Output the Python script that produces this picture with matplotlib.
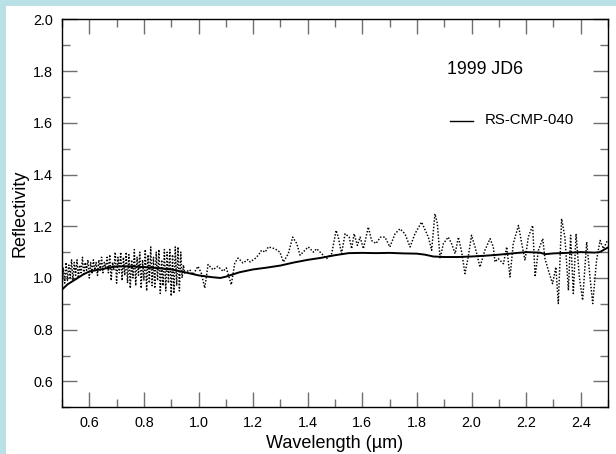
import matplotlib
matplotlib.use("Agg")
import matplotlib.pyplot as plt
from matplotlib.patches import Rectangle
from matplotlib.ticker import MultipleLocator, FixedLocator
import numpy as np

plt.rcParams['font.family'] = ['Liberation Sans', 'DejaVu Sans']

# ---- data: asteroid 1999 JD6 (dotted) -------------------------------------
vis_wave = [0.500, 0.505, 0.510, 0.515, 0.520, 0.525, 0.530, 0.535, 0.540, 0.545,
            0.550, 0.555, 0.560, 0.565, 0.570, 0.575, 0.580, 0.585, 0.590, 0.595,
            0.600, 0.605, 0.610, 0.615, 0.620, 0.625, 0.630, 0.635, 0.640, 0.645,
            0.650, 0.655, 0.660, 0.665, 0.670, 0.675, 0.680, 0.685, 0.690, 0.695,
            0.700, 0.705, 0.710, 0.715, 0.720, 0.725, 0.730, 0.735, 0.740, 0.745,
            0.750, 0.755, 0.760, 0.765, 0.770, 0.775, 0.780, 0.785, 0.790, 0.795,
            0.800, 0.805, 0.810, 0.815, 0.820, 0.825, 0.830, 0.835, 0.840, 0.845,
            0.850, 0.855, 0.860, 0.865, 0.870, 0.875, 0.880, 0.885, 0.890, 0.895,
            0.900, 0.905, 0.910, 0.915, 0.920, 0.925, 0.930, 0.935, 0.940, 0.945]
vis_refl = [0.96, 1.04, 0.98, 1.06, 0.99, 1.05, 1.00, 1.07, 0.99, 1.06,
            1.01, 1.07, 1.00, 1.05, 1.02, 1.08, 1.01, 1.06, 1.03, 1.07,
            1.00, 1.06, 1.02, 1.07, 1.03, 1.06, 1.01, 1.07, 1.03, 1.08,
            1.02, 1.06, 1.04, 1.08, 1.02, 1.09, 0.99, 1.06, 1.03, 1.10,
            0.98, 1.08, 1.02, 1.10, 0.99, 1.08, 1.01, 1.10, 0.98, 1.09,
            0.96, 1.07, 1.00, 1.11, 0.97, 1.08, 1.01, 1.10, 0.96, 1.07,
            0.99, 1.11, 0.95, 1.09, 0.98, 1.12, 0.97, 1.08, 0.96, 1.10,
            0.99, 1.11, 0.94, 1.07, 0.97, 1.11, 0.95, 1.10, 0.98, 1.11,
            0.93, 1.09, 0.94, 1.12, 0.97, 1.12, 0.95, 1.10, 1.00, 1.05]

nir_wave = [0.949, 0.968, 0.980, 0.998, 1.010, 1.023, 1.035, 1.053, 1.071, 1.090,
            1.102, 1.120, 1.133, 1.145, 1.163, 1.181, 1.189, 1.207, 1.219, 1.231,
            1.244, 1.256, 1.280, 1.298, 1.311, 1.329, 1.345, 1.360, 1.372, 1.390,
            1.402, 1.421, 1.433, 1.451, 1.469, 1.488, 1.504, 1.512, 1.524, 1.537,
            1.552, 1.561, 1.570, 1.582, 1.592, 1.604, 1.622, 1.634, 1.650, 1.667,
            1.683, 1.701, 1.720, 1.738, 1.756, 1.775, 1.793, 1.817, 1.842, 1.854,
            1.866, 1.875, 1.885, 1.897, 1.915, 1.927, 1.940, 1.952, 1.964, 1.976,
            1.988, 2.000, 2.013, 2.031, 2.049, 2.068, 2.080, 2.086, 2.098, 2.117,
            2.129, 2.141, 2.153, 2.172, 2.184, 2.196, 2.208, 2.224, 2.233, 2.245,
            2.261, 2.269, 2.285, 2.297, 2.309, 2.318, 2.330, 2.342, 2.355, 2.363,
            2.373, 2.383, 2.395, 2.407, 2.422, 2.434, 2.444, 2.458, 2.471, 2.483,
            2.498]
nir_refl = [1.019, 1.032, 1.013, 1.045, 1.019, 0.961, 1.052, 1.032, 1.045, 1.026,
            1.039, 0.974, 1.058, 1.077, 1.058, 1.071, 1.062, 1.075, 1.088, 1.107,
            1.100, 1.120, 1.113, 1.100, 1.062, 1.094, 1.158, 1.133, 1.088, 1.107,
            1.120, 1.100, 1.113, 1.094, 1.075, 1.094, 1.184, 1.158, 1.094, 1.171,
            1.158, 1.113, 1.171, 1.126, 1.158, 1.113, 1.197, 1.145, 1.133, 1.158,
            1.158, 1.120, 1.171, 1.190, 1.171, 1.120, 1.171, 1.216, 1.158, 1.107,
            1.248, 1.210, 1.075, 1.133, 1.158, 1.133, 1.094, 1.158, 1.100, 1.017,
            1.081, 1.165, 1.120, 1.042, 1.107, 1.152, 1.120, 1.062, 1.075, 1.055,
            1.120, 1.004, 1.133, 1.203, 1.133, 1.068, 1.158, 1.203, 1.004, 1.107,
            1.152, 1.075, 1.017, 0.978, 1.042, 0.901, 1.229, 1.158, 0.952, 1.165,
            0.940, 1.171, 1.004, 0.914, 1.139, 1.004, 0.901, 1.068, 1.145, 1.113,
            1.145]

# ---- data: meteorite RS-CMP-040 (solid) ------------------------------------
met_wave = [0.50, 0.52, 0.55, 0.58, 0.60, 0.65, 0.70, 0.75, 0.80, 0.85,
            0.90, 0.95, 1.00, 1.05, 1.08, 1.10, 1.15, 1.20, 1.25, 1.30,
            1.35, 1.40, 1.45, 1.50, 1.55, 1.60, 1.65, 1.70, 1.75, 1.80,
            1.83, 1.86, 1.90, 1.95, 2.00, 2.05, 2.10, 2.15, 2.20, 2.25,
            2.27, 2.30, 2.35, 2.40, 2.45, 2.47, 2.50]
met_refl = [0.955, 0.975, 0.995, 1.015, 1.025, 1.035, 1.045, 1.045, 1.042, 1.038,
            1.033, 1.022, 1.010, 1.003, 1.000, 1.005, 1.022, 1.033, 1.040, 1.048,
            1.060, 1.070, 1.078, 1.088, 1.096, 1.097, 1.096, 1.097, 1.095, 1.094,
            1.090, 1.083, 1.081, 1.081, 1.083, 1.086, 1.090, 1.095, 1.100, 1.098,
            1.092, 1.095, 1.097, 1.100, 1.098, 1.100, 1.118]

x_ticks = [0.6, 0.8, 1.0, 1.2, 1.4, 1.6, 1.8, 2.0, 2.2, 2.4]
y_ticks = [0.6, 0.8, 1.0, 1.2, 1.4, 1.6, 1.8, 2.0]

W, H = 616, 454
fig = plt.figure(figsize=(W / 100, H / 100), dpi=100)
fig.patch.set_facecolor('#b9e0e4')
bg = Rectangle((6 / W, 0), 1 - 6 / W, 1 - 6 / H,
               transform=fig.transFigure, facecolor='white',
               edgecolor='none', zorder=-10)
fig.patches.append(bg)

L, R, T, B = 62, 608, 19.3, 407.3
ax = fig.add_axes([L / W, 1 - B / H, (R - L) / W, (B - T) / H])
ax.set_zorder(1)
ax.set_facecolor('white')

ax.plot(vis_wave + nir_wave, vis_refl + nir_refl, color='black', lw=1.05,
        linestyle=(0, (1, 1.2)))
ax.plot(met_wave, met_refl, color='black', lw=1.4)

ax.set_xlim(0.5, 2.5)
ax.set_ylim(0.5, 2.0)
ax.xaxis.set_major_locator(FixedLocator(x_ticks))
ax.yaxis.set_major_locator(FixedLocator(y_ticks))
ax.xaxis.set_minor_locator(MultipleLocator(0.1))
ax.yaxis.set_minor_locator(MultipleLocator(0.1))
ax.set_xticklabels([f"{v:.1f}" for v in x_ticks])
ax.set_yticklabels([f"{v:.1f}" for v in y_ticks])

ax.tick_params(which='both', direction='in', top=True, right=True,
               color='#707070', width=1.0, labelsize=10.4, labelcolor='black')
ax.tick_params(which='major', length=10.5)
ax.tick_params(which='minor', length=5.5)
ax.tick_params(axis='x', which='major', pad=6)
ax.tick_params(axis='y', which='major', pad=6.5)
for s in ax.spines.values():
    s.set_linewidth(1.0)
    s.set_color('black')

ax.set_xlabel('Wavelength (\u00b5m)', fontsize=13, labelpad=4)
ax.set_ylabel('Reflectivity', fontsize=13, labelpad=3)

ax.text(1.910, 1.804, '1999 JD6', fontsize=12.8, va='center', ha='left')
ax.plot([1.921, 2.005], [1.605, 1.605], color='black', lw=1.0)
ax.text(2.049, 1.612, 'RS-CMP-040', fontsize=10.8, va='center', ha='left')

fig.savefig('out.png', dpi=100, facecolor=fig.get_facecolor())
